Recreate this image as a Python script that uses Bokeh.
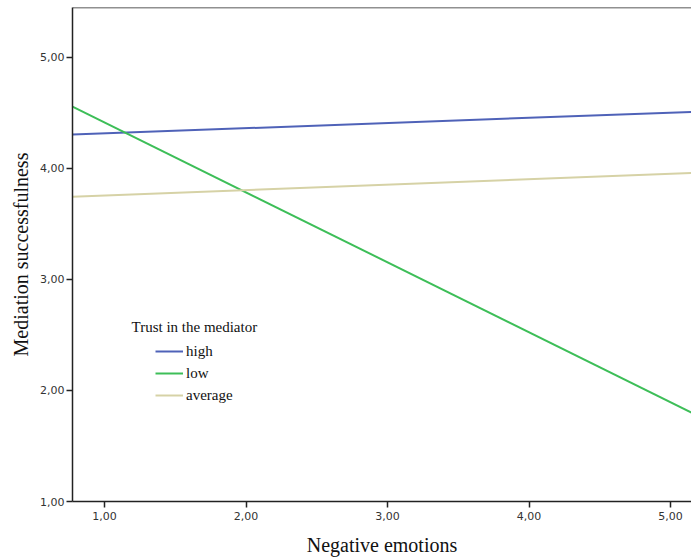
from bokeh.plotting import figure
from bokeh.models import Range1d, Legend, LegendItem, Label, Span, FixedTicker, CustomJSTickFormatter
from bokeh.embed import file_html
from bokeh.resources import INLINE

# Data
x_vals = [0.774, 5.15]
series_names = ["high", "low", "average"]
high_vals = [4.305, 4.51]
low_vals = [4.557, 1.80]
average_vals = [3.745, 3.96]
series_colors = ["#4F62B8", "#3DBE58", "#D6D2A6"]
x_ticks = [1, 2, 3, 4, 5]
y_ticks = [1, 2, 3, 4, 5]

p = figure(width=691, height=558, output_backend="svg", toolbar_location=None,
           x_range=Range1d(0.774, 5.148), y_range=Range1d(1.0, 5.45),
           min_border_left=72, min_border_right=0, min_border_top=7, min_border_bottom=50)

p.outline_line_color = None
p.xgrid.visible = False
p.ygrid.visible = False
p.background_fill_color = "white"
p.border_fill_color = "white"

fmt = CustomJSTickFormatter(code="return tick.toFixed(2).replace('.', ',');")
for ax, ticks in ((p.xaxis[0], x_ticks), (p.yaxis[0], y_ticks)):
    ax.ticker = FixedTicker(ticks=ticks)
    ax.formatter = fmt
    ax.axis_line_color = "#222222"
    ax.axis_line_width = 1.5
    ax.major_tick_line_color = "#222222"
    ax.major_tick_line_width = 1.5
    ax.major_tick_in = 0
    ax.major_tick_out = 6
    ax.minor_tick_line_color = None
    ax.major_label_text_font = "DejaVu Sans"
    ax.major_label_text_font_size = "11px"
    ax.major_label_text_color = "#333333"
    ax.axis_label_text_font = "Liberation Serif"
    ax.axis_label_text_font_size = "20px"
    ax.axis_label_text_font_style = "normal"
    ax.axis_label_text_color = "#111111"

p.xaxis.axis_label = "Negative emotions"
p.yaxis.axis_label = "Mediation successfulness"
p.xaxis.major_label_standoff = 4
p.xaxis.axis_label_standoff = 11
p.yaxis.major_label_standoff = 2
p.yaxis.axis_label_standoff = 5

p.add_layout(Span(location=5.45, dimension="width", line_color="#222222", line_width=1.5))

renderers = []
for name, vals, col in zip(series_names, [high_vals, low_vals, average_vals], series_colors):
    r = p.line(x_vals, vals, line_color=col, line_width=2)
    renderers.append((name, r))

legend = Legend(items=[LegendItem(label=n, renderers=[r]) for n, r in renderers],
                location=(83, 95), orientation="vertical",
                border_line_color=None, background_fill_alpha=0,
                padding=0, margin=0, spacing=0,
                glyph_width=28, glyph_height=22, label_height=22,
                label_standoff=3,
                label_text_font="Liberation Serif", label_text_font_size="15px",
                label_text_color="#111111")
p.add_layout(legend, "center")

p.add_layout(Label(x=59, y=167, x_units="screen", y_units="screen",
                   text="Trust in the mediator", text_font="Liberation Serif",
                   text_font_size="15px", text_color="#111111"))

open("out.html", "w").write(file_html(p, INLINE))
